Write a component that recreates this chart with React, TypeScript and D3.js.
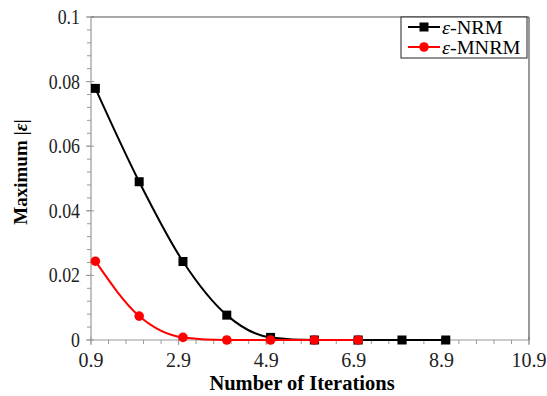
import React, { useEffect, useRef } from 'react';
import * as d3 from 'd3';

const nrmIter = [1, 2, 3, 4, 5, 6, 7, 8, 9];
const nrmErr = [0.0779, 0.049, 0.0243, 0.0077, 0.0008, 0, 0, 0, 0];
const mnrmIter = [1, 2, 3, 4, 5, 6, 7];
const mnrmErr = [0.0244, 0.0074, 0.0008, 0, 0, 0, 0];

const xTicks = [0.9, 2.9, 4.9, 6.9, 8.9, 10.9];
const yTicks = [0, 0.02, 0.04, 0.06, 0.08, 0.1];
const yTickLabels = ['0', '0.02', '0.04', '0.06', '0.08', '0.1'];

const width = 547;
const height = 396;

const App = () => {
    const svgRef = useRef<SVGSVGElement>(null);

    useEffect(() => {
        const svg = d3.select(svgRef.current);
        svg.selectAll('*').remove();

        const left = 91, right = 529, top = 17, bottom = 340;
        const font = 'Liberation Serif, Tinos, Times, DejaVu Serif, serif';

        const x = d3.scaleLinear().domain([0.9, 10.9]).range([left, right]);
        const y = d3.scaleLinear().domain([0, 0.1]).range([bottom, top]);

        const axisColor = '#999';

        // minor ticks
        const xMinor = d3.range(0.9, 10.9 + 1e-9, 0.4);
        svg.append('g').selectAll('line').data(xMinor).enter().append('line')
            .attr('x1', d => x(d)).attr('x2', d => x(d))
            .attr('y1', bottom).attr('y2', bottom + 4)
            .attr('stroke', axisColor).attr('stroke-width', 1);
        const yMinor = d3.range(0, 0.1 + 1e-9, 0.004);
        svg.append('g').selectAll('line').data(yMinor).enter().append('line')
            .attr('x1', left - 4).attr('x2', left)
            .attr('y1', d => y(d)).attr('y2', d => y(d))
            .attr('stroke', axisColor).attr('stroke-width', 1);

        // major ticks
        svg.append('g').selectAll('line').data(yTicks).enter().append('line')
            .attr('x1', left - 5).attr('x2', left + 3)
            .attr('y1', d => y(d)).attr('y2', d => y(d))
            .attr('stroke', axisColor).attr('stroke-width', 1);
        svg.append('g').selectAll('line').data(xTicks).enter().append('line')
            .attr('x1', d => x(d)).attr('x2', d => x(d))
            .attr('y1', bottom - 3).attr('y2', bottom + 5)
            .attr('stroke', axisColor).attr('stroke-width', 1);

        // plot frame
        svg.append('line').attr('x1', left).attr('x2', right).attr('y1', top).attr('y2', top)
            .attr('stroke', '#555').attr('stroke-width', 1.2);
        svg.append('line').attr('x1', right).attr('x2', right).attr('y1', top).attr('y2', bottom)
            .attr('stroke', '#555').attr('stroke-width', 1.2);
        svg.append('line').attr('x1', left).attr('x2', left).attr('y1', top).attr('y2', bottom)
            .attr('stroke', axisColor).attr('stroke-width', 1.2);
        svg.append('line').attr('x1', left).attr('x2', right).attr('y1', bottom).attr('y2', bottom)
            .attr('stroke', axisColor).attr('stroke-width', 1.2);

        // tick labels
        svg.append('g').selectAll('text').data(xTicks).enter().append('text')
            .attr('x', d => x(d)).attr('y', 367)
            .attr('text-anchor', 'middle')
            .attr('font-family', font).attr('font-size', 20).attr('fill', '#222')
            .text(d => d.toFixed(1));
        svg.append('g').selectAll('text').data(yTicks).enter().append('text')
            .attr('transform', d => `translate(80,${y(d) + 7}) scale(0.85,1)`)
            .attr('text-anchor', 'end')
            .attr('font-family', font).attr('font-size', 21).attr('fill', '#222')
            .text((d, i) => yTickLabels[i]);

        // axis titles
        svg.append('text')
            .attr('x', 302).attr('y', 390)
            .attr('text-anchor', 'middle')
            .attr('font-family', font).attr('font-size', 20.5).attr('font-weight', 'bold')
            .text('Number of Iterations');
        const yt = svg.append('text')
            .attr('transform', `translate(27,172) rotate(-90)`)
            .attr('text-anchor', 'middle')
            .attr('font-family', font).attr('font-size', 19).attr('font-weight', 'bold');
        yt.append('tspan').text('Maximum |');
        yt.append('tspan').attr('font-style', 'italic').text('ε');
        yt.append('tspan').text('|');

        const series = [
            { name: 'NRM', xs: nrmIter, ys: nrmErr, color: '#000', shape: 'square' },
            { name: 'MNRM', xs: mnrmIter, ys: mnrmErr, color: '#ff0000', shape: 'circle' },
        ];

        series.forEach(s => {
            const pts = s.xs.map((v, i) => [x(v), y(s.ys[i])] as [number, number]);
            svg.append('path')
                .attr('d', d3.line().curve(d3.curveMonotoneX)(pts))
                .attr('fill', 'none')
                .attr('stroke', s.color)
                .attr('stroke-width', 2);
        });

        const drawMarker = (g: any, shape: string, cx: number, cy: number, color: string) => {
            if (shape === 'square') {
                g.append('rect').attr('x', cx - 4.5).attr('y', cy - 4.5)
                    .attr('width', 9).attr('height', 9).attr('fill', color);
            } else {
                g.append('circle').attr('cx', cx).attr('cy', cy).attr('r', 4.8).attr('fill', color);
            }
        };

        series.forEach(s => {
            const g = svg.append('g');
            s.xs.forEach((v, i) => drawMarker(g, s.shape, x(v), y(s.ys[i]), s.color));
        });

        // legend
        const lg = svg.append('g');
        lg.append('rect').attr('x', 401).attr('y', 17).attr('width', 126).attr('height', 41)
            .attr('fill', '#fff').attr('stroke', '#222').attr('stroke-width', 1);
        series.forEach((s, i) => {
            const ly = 27 + i * 20;
            lg.append('line').attr('x1', 408).attr('x2', 440).attr('y1', ly).attr('y2', ly)
                .attr('stroke', s.color).attr('stroke-width', 2);
            drawMarker(lg, s.shape, 424, ly, s.color);
            const t = lg.append('text')
                .attr('transform', `translate(442,${ly + 6.5}) scale(1.12,1)`)
                .attr('font-family', font).attr('font-size', 18).attr('fill', '#000');
            t.append('tspan').attr('font-style', 'italic').text('ε');
            t.append('tspan').text('-' + s.name);
        });
    }, []);

    return (
        <div style={{ position: 'absolute', left: 0, top: 0 }}>
            <svg ref={svgRef} width={width} height={height} style={{ display: 'block', background: '#fff' }}></svg>
        </div>
    );
};

export default App;
